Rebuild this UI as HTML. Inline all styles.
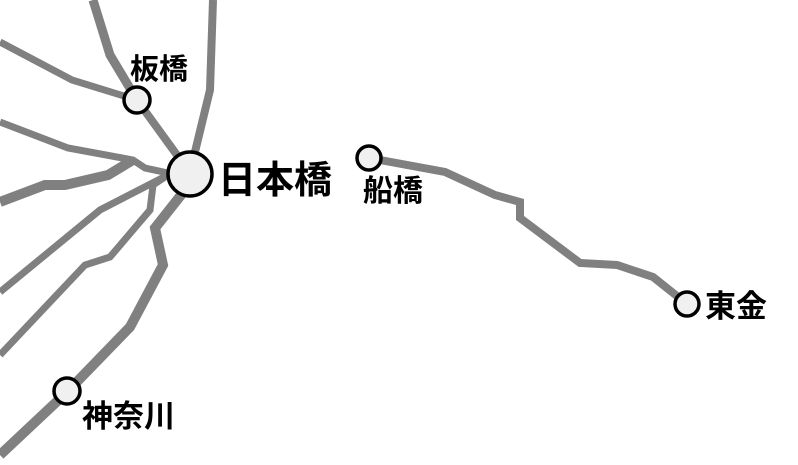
<!DOCTYPE html>
<html><head><meta charset="utf-8"><style>
html,body{margin:0;padding:0;background:#fff;}
svg{display:block}
text{font-family:"Liberation Sans","Noto Sans CJK JP",sans-serif;font-weight:bold;fill:#000}
</style></head><body>
<svg width="798" height="465" viewBox="0 0 798 465" xmlns="http://www.w3.org/2000/svg">
<g fill="none" stroke="#808080" stroke-linejoin="miter" stroke-linecap="butt">
<polyline points="93,0 110,55 137,100" stroke-width="9"/>
<polyline points="137,100 190,173" stroke-width="8"/>
<polyline points="0,42 72,80 137,100" stroke-width="7"/>
<polyline points="213,0 210,90 193,160" stroke-width="8"/>
<polyline points="0,122 68,148 133,160 145,168 168,173" stroke-width="7"/>
<polyline points="0,202 45,185 65,185 108,175 133,160" stroke-width="10"/>
<polyline points="0,292 100,210 168,175" stroke-width="7"/>
<polyline points="0,355 85,265 110,257 150,210 153,185 165,177" stroke-width="7"/>
<polyline points="185,190 155,228 163,265 130,327 67,392 0,455" stroke-width="10"/>
<polyline points="369,158 445,172 495,195 520,202 520,218 580,263 617,265 653,277 687,304" stroke-width="8"/>
</g>
<g fill="#f0f0f0" stroke="#000" stroke-width="3.5">
<circle cx="137" cy="100" r="13"/>
<circle cx="190" cy="174" r="22"/>
<circle cx="67" cy="391" r="13"/>
<circle cx="369" cy="158" r="12"/>
<circle cx="687" cy="304" r="12"/>
</g>
<text x="130" y="79" font-size="29">板橋</text>
<text x="218" y="193" font-size="38">日本橋</text>
<text x="363" y="201" font-size="30">船橋</text>
<text x="705" y="317" font-size="31">東金</text>
<text x="82" y="427" font-size="31">神奈川</text>
</svg>
</body></html>
